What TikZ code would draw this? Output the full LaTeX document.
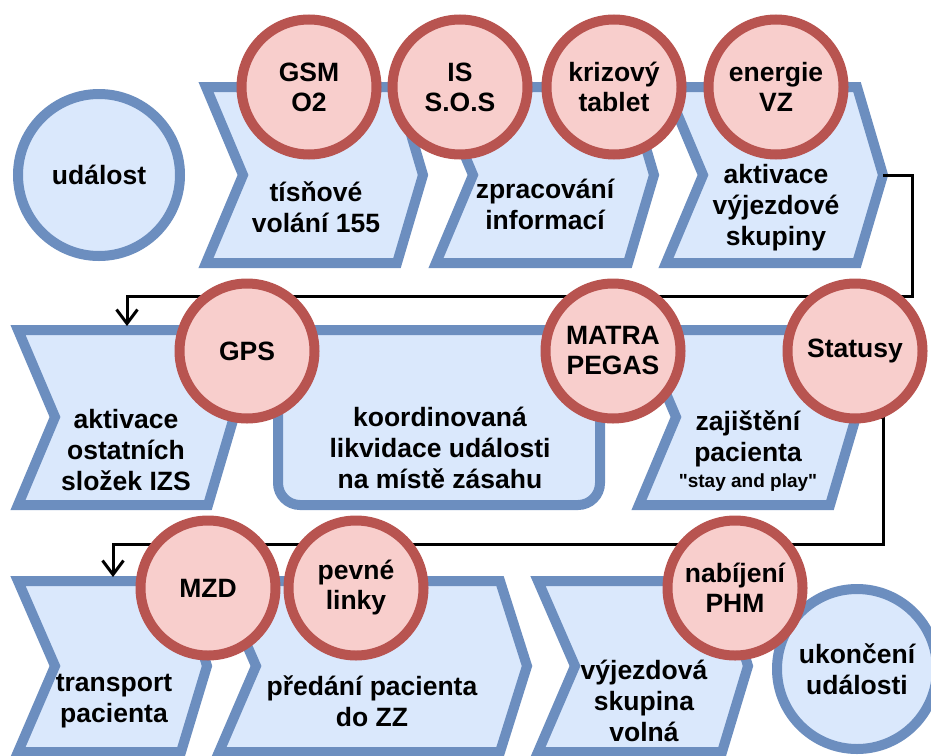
\documentclass[tikz,border=0pt]{standalone}
\usepackage{fontspec}
\setmainfont{Liberation Sans}
% same face without TeX ligature mapping, so that " stays a straight quote
\newfontfamily\plainquotefont{Liberation Sans}[Ligatures=TeXOff]
\usetikzlibrary{arrows.meta}

\definecolor{stepfill}{HTML}{DAE8FC}
\definecolor{stepline}{HTML}{6C8EBF}
\definecolor{toolfill}{HTML}{F8CECC}
\definecolor{toolline}{HTML}{B85450}

\begin{document}
\begin{tikzpicture}[x=1pt,y=-1pt,
  stepbox/.style={draw=stepline, fill=stepfill, line width=10pt, line join=miter},
  steptext/.style={align=center, inner sep=0pt, font=\bfseries\fontsize{26.5}{31}\selectfont},
  smalltext/.style={align=center, inner sep=0pt, font=\plainquotefont\bfseries\fontsize{19}{22}\selectfont},
  tool/.style={circle, draw=toolline, fill=toolfill, line width=10pt, minimum size=135pt,
    inner sep=0pt, align=center, font=\bfseries\fontsize{26.5}{30}\selectfont},
  event/.style={circle, draw=stepline, fill=stepfill, line width=10pt,
    inner sep=0pt, align=center, font=\bfseries\fontsize{26.5}{31}\selectfont},
  flow/.style={draw=black, line width=3pt, line join=miter,
    -{Straight Barb[length=14pt,width=21pt,line width=3pt]}}]

\useasboundingbox (0,0) rectangle (931,755);

% process steps, top row
\draw[stepbox] (206,87) -- (397,87) -- (423,175) -- (397,263) -- (206,263) -- (243,175) -- cycle;
\draw[stepbox] (436,87) -- (628,87) -- (654,175) -- (628,263) -- (436,263) -- (473,175) -- cycle;
\draw[stepbox] (666,87) -- (857,87) -- (883,175) -- (857,263) -- (666,263) -- (703,175) -- cycle;
% middle row
\draw[stepbox] (18,330) -- (208,330) -- (234,417) -- (208,505) -- (18,505) -- (55,417) -- cycle;
\draw[stepbox, rounded corners=22pt] (278,330) rectangle (600,505);
\draw[stepbox] (639,330) -- (830,330) -- (856,417) -- (830,505) -- (639,505) -- (676,417) -- cycle;
% bottom row
\draw[stepbox] (18,581) -- (181,581) -- (207,666) -- (181,752) -- (18,752) -- (55,666) -- cycle;
\draw[stepbox] (219,581) -- (500,581) -- (527,666) -- (500,752) -- (219,752) -- (256,666) -- cycle;
\draw[stepbox] (538,581) -- (722,581) -- (748,666) -- (722,752) -- (538,752) -- (575,666) -- cycle;

% connector ends
\coordinate (outC) at (883,175);
\coordinate (inD)  at (127,326);
\coordinate (outF) at (856,417);
\coordinate (inG)  at (113,577);

% flow between rows
\draw[flow] (outC) -| (912,296) -| (inD);
\draw[flow] (outF) -| (883,544) -| (inG);

% step labels
\node[steptext] (tA) at (316,207) {tísňové\\volání 155};
\node[steptext] (tB) at (545,204) {zpracování\\informací};
\node[steptext] (tC) at (776,208) {aktivace\\výjezdové\\skupiny};
\node[steptext] (tD) at (126,450) {aktivace\\ostatních\\složek IZS};
\node[steptext] (tE) at (440,448) {koordinovaná\\likvidace události\\na místě zásahu};
\node[steptext] (tF) at (748,439) {zajištění\\pacienta};
\node[smalltext] (tFs) at (748,483) {"stay and play"};
\node[steptext] (tG) at (114,701) {transport\\pacienta};
\node[steptext] (tH) at (372,701) {předání pacienta\\do ZZ};
\node[steptext] (tI) at (644,701) {výjezdová\\skupina\\volná};

% start and end events
\node[event, minimum size=162pt] (start) at (99,175) {událost};
\node[event, minimum size=160pt] (finish) at (857,669) {ukončení\\události};

% supporting tools
\node[tool] (gsm)    at (309,87)  {GSM\\O2};
\node[tool] (is)     at (460,87)  {IS\\S.O.S};
\node[tool] (tablet) at (614,87)  {krizový\\tablet};
\node[tool] (vz)     at (776,87)  {energie\\VZ};
\node[tool] (gps)    at (247,351) {GPS};
\node[tool] (matra)  at (613,351) {MATRA\\PEGAS};
\node[tool] (status) at (855,351) {Statusy};
\node[tool] (mzd)    at (208,588) {MZD};
\node[tool] (linky)  at (356,588) {pevné\\linky};
\node[tool] (phm)    at (735,588) {nabíjení\\PHM};

\end{tikzpicture}
\end{document}
